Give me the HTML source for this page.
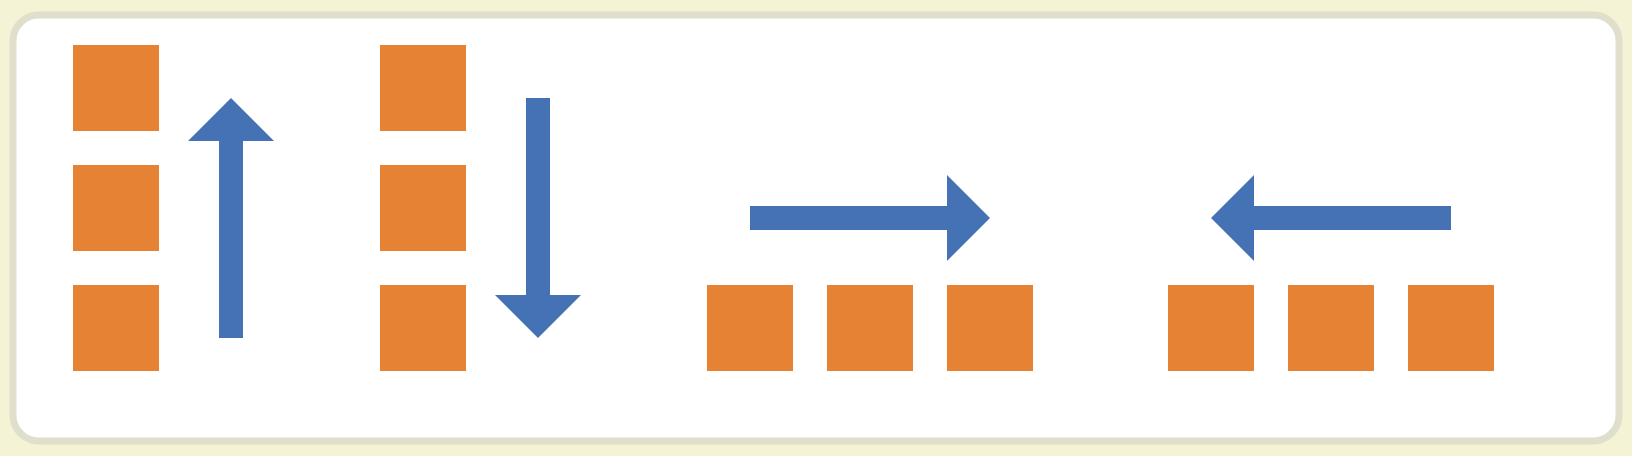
<!DOCTYPE html>
<html><head><meta charset="utf-8"><style>
html,body{margin:0;padding:0;background:#f5f3d6;}
svg{display:block}
</style></head><body>
<svg width="1632" height="456" viewBox="0 0 1632 456" xmlns="http://www.w3.org/2000/svg">
<rect x="0" y="0" width="1632" height="456" fill="#f5f3d6"/>
<rect x="13" y="15" width="1606" height="426" rx="26" fill="#ffffff" stroke="#e0dfcb" stroke-width="7"/>
<g fill="#e68233">
<rect x="73" y="45" width="86" height="86"/>
<rect x="73" y="165" width="86" height="86"/>
<rect x="73" y="285" width="86" height="86"/>
<rect x="380" y="45" width="86" height="86"/>
<rect x="380" y="165" width="86" height="86"/>
<rect x="380" y="285" width="86" height="86"/>
<rect x="707" y="285" width="86" height="86"/>
<rect x="827" y="285" width="86" height="86"/>
<rect x="947" y="285" width="86" height="86"/>
<rect x="1168" y="285" width="86" height="86"/>
<rect x="1288" y="285" width="86" height="86"/>
<rect x="1408" y="285" width="86" height="86"/>
</g>
<g fill="#4472b4">
<rect x="219" y="140" width="24" height="198"/>
<polygon points="188,141 274,141 231,98"/>
<rect x="526" y="98" width="24" height="198"/>
<polygon points="495,295 581,295 538,338"/>
<rect x="750" y="206" width="198" height="24"/>
<polygon points="947,175 947,261 990,218"/>
<rect x="1253" y="206" width="198" height="24"/>
<polygon points="1254,175 1254,261 1211,218"/>
</g>
</svg>
</body></html>
